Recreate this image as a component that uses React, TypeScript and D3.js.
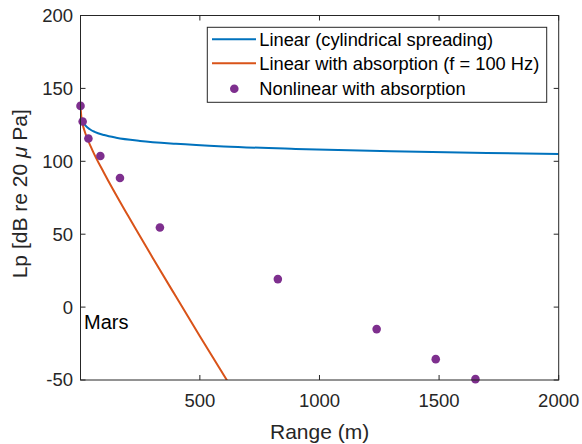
import React from "react";
import * as d3 from "d3";

// Linear (cylindrical spreading)
const linearRange = [10, 16, 25, 40, 60, 100, 150, 250, 400, 600, 900, 1300, 1700, 2000];
const linearLp = [128, 126, 124, 122, 120.2, 118, 116.2, 114, 112, 110.2, 108.5, 106.9, 105.7, 105];

// Linear with absorption (f = 100 Hz)
const absRange = [1, 5, 10, 20, 50, 100, 200, 300, 400, 500, 620];
const absLp = [137.7, 129.7, 125.4, 119.8, 107.9, 91.8, 62.6, 34.6, 7.2, -20, -52];

// Nonlinear with absorption
const nlRange = [1, 10, 34, 84, 166, 333, 826, 1239, 1486, 1652];
const nlLp = [138, 127.3, 115.6, 103.6, 88.5, 54.6, 19.2, -15.1, -35.7, -49.4];

const xTicks = [500, 1000, 1500, 2000];
const yTicks = [-50, 0, 50, 100, 150, 200];

const legendLabels = [
  "Linear (cylindrical spreading)",
  "Linear with absorption (f = 100 Hz)",
  "Nonlinear with absorption",
];

const W = 582;
const H = 444;
const L = 80.5, R = 558.7, T = 15.5, B = 380;
const FONT = "'Liberation Sans', Arial, Helvetica, sans-serif";
const AX = "#262626";
const BLUE = "#0072BD";
const ORANGE = "#D95319";
const PURPLE = "#7E2F8E";

export default function App() {
  const x = d3.scaleLinear().domain([1, 2000]).range([L, R]);
  const y = d3.scaleLinear().domain([-50, 200]).range([B, T]);
  const line = d3
    .line<[number, number]>()
    .x((d) => x(d[0]))
    .y((d) => y(d[1]))
    .curve(d3.curveMonotoneX);

  const linData = linearRange.map((r, i) => [r, linearLp[i]] as [number, number]);
  const absData = absRange.map((r, i) => [r, absLp[i]] as [number, number]);
  const tick = 5;

  return (
    <svg
      width={W}
      height={H}
      style={{ position: "fixed", left: 0, top: 0, background: "#fff" }}
      fontFamily={FONT}
    >
      <defs>
        <clipPath id="plot">
          <rect x={L} y={T} width={R - L} height={B - T} />
        </clipPath>
      </defs>
      <rect x={0} y={0} width={W} height={H} fill="#fff" />

      <g clipPath="url(#plot)">
        <path d={line(linData) || ""} fill="none" stroke={BLUE} strokeWidth={2} />
        <path d={line(absData) || ""} fill="none" stroke={ORANGE} strokeWidth={2} />
      </g>
      {nlRange.map((r, i) => (
        <circle key={i} cx={x(r)} cy={y(nlLp[i])} r={4.3} fill={PURPLE} />
      ))}

      {/* axes box */}
      <rect x={L} y={T} width={R - L} height={B - T} fill="none" stroke={AX} strokeWidth={1} />
      {xTicks.map((t) => (
        <g key={"x" + t}>
          <line x1={x(t)} x2={x(t)} y1={B} y2={B - tick} stroke={AX} />
          <line x1={x(t)} x2={x(t)} y1={T} y2={T + tick} stroke={AX} />
          <text x={x(t)} y={407} textAnchor="middle" fontSize={18.5} fill={AX}>
            {t}
          </text>
        </g>
      ))}
      {yTicks.map((t) => (
        <g key={"y" + t}>
          <line x1={L} x2={L + tick} y1={y(t)} y2={y(t)} stroke={AX} />
          <line x1={R} x2={R - tick} y1={y(t)} y2={y(t)} stroke={AX} />
          <text x={73} y={y(t)} dy="0.35em" textAnchor="end" fontSize={18.5} fill={AX}>
            {t}
          </text>
        </g>
      ))}

      <text x={(L + R) / 2} y={439} textAnchor="middle" fontSize={21} fill={AX}>
        Range (m)
      </text>
      <text
        transform={`translate(27, ${(T + B) / 2 - 4}) rotate(-90)`}
        textAnchor="middle"
        fontSize={21}
        fill={AX}
      >
        Lp [dB re 20 <tspan fontStyle="italic">μ</tspan> Pa]
      </text>

      <text x={84} y={329} fontSize={20} fill="#000">
        Mars
      </text>

      {/* legend */}
      <rect x={207.3} y={27.3} width={339.4} height={75} fill="#fff" stroke={AX} strokeWidth={1} />
      <line x1={212} x2={256} y1={39.3} y2={39.3} stroke={BLUE} strokeWidth={2} />
      <line x1={212} x2={256} y1={63.3} y2={63.3} stroke={ORANGE} strokeWidth={2} />
      <circle cx={234.3} cy={88.7} r={4.3} fill={PURPLE} />
      {legendLabels.map((lab, i) => (
        <text key={lab} x={259.3} y={39.3 + 24.5 * i} dy="0.35em" fontSize={18.3} fill="#000">
          {lab}
        </text>
      ))}
    </svg>
  );
}
